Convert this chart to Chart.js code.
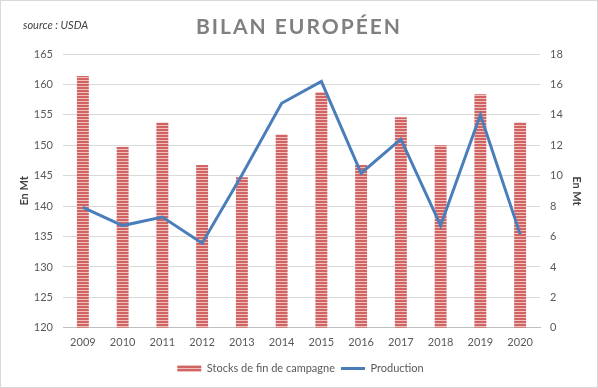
<!DOCTYPE html>
<html>
<head>
<meta charset="utf-8">
<script src="https://cdn.jsdelivr.net/npm/chart.js@4/dist/chart.umd.min.js"></script>
<style>
    body { margin: 0; background: #fff; }
    #cadre { position: absolute; left: 0; top: 0; width: 596px; height: 386px; border: 1px solid #d9d9d9; }
    #titre { position: absolute; left: 0; width: 598px; top: 13px; text-align: center; font: bold 21px Lato, sans-serif; letter-spacing: 2px; color: #808080; }
    #source { position: absolute; left: 23px; top: 18px; font: italic 11px Lato, sans-serif; color: #404040; }
    #grafico-bilan { position: absolute; left: 0; top: 0; }
</style>
</head>
<body>
<div id="cadre"></div>
<canvas id="grafico-bilan" width="598" height="388"></canvas>
<div id="titre">BILAN EUROPÉEN</div>
<div id="source">source : USDA</div>
<script>
var annees = ['2009', '2010', '2011', '2012', '2013', '2014', '2015', '2016', '2017', '2018', '2019', '2020'];
// stocks de fin de campagne (axe de droite, Mt)
var stocks = [16.55, 11.9, 13.5, 10.7, 9.9, 12.7, 15.5, 10.7, 13.85, 12.0, 15.35, 13.5];
// production (axe de gauche, Mt)
var production = [139.8, 136.8, 138.2, 133.9, 145.1, 156.9, 160.5, 145.4, 151.0, 136.8, 155.0, 135.4];
var ticksGauche = [120, 125, 130, 135, 140, 145, 150, 155, 160, 165];
var ticksDroite = [0, 2, 4, 6, 8, 10, 12, 14, 16, 18];

// motif rayé des barres
var motif = document.createElement('canvas');
motif.width = 4;
motif.height = 3;
var mctx = motif.getContext('2d');
mctx.fillStyle = '#f0c0bf';
mctx.fillRect(0, 0, 4, 3);
mctx.fillStyle = '#d06462';
mctx.fillRect(0, 0, 4, 2);
var rayures = mctx.createPattern(motif, 'repeat');

const ctx = document.getElementById("grafico-bilan");
var myChart = new Chart(ctx, {
    type: 'bar',
    data: {
        labels: annees,
        datasets: [{
            type: 'line',
            label: 'Production',
            data: production,
            yAxisID: 'y',
            borderColor: '#4a7ebb',
            backgroundColor: '#4a7ebb',
            borderWidth: 3,
            pointRadius: 0,
            tension: 0,
            pointStyle: 'line'
        }, {
            type: 'bar',
            label: 'Stocks de fin de campagne',
            data: stocks,
            yAxisID: 'y1',
            backgroundColor: rayures,
            borderWidth: 0,
            barPercentage: 0.3,
            categoryPercentage: 1,
            pointStyle: 'rect'
        }]
    },
    options: {
        responsive: false,
        animation: false,
        layout: {
            padding: { top: 54, left: 14, right: 11, bottom: 4 }
        },
        plugins: {
            legend: {
                position: 'bottom',
                reverse: true,
                labels: {
                    usePointStyle: true,
                    pointStyleWidth: 24,
                    boxHeight: 7,
                    padding: 6,
                    color: '#595959',
                    font: { family: 'Lato', size: 11 }
                }
            },
            tooltip: { enabled: false }
        },
        scales: {
            x: {
                grid: { display: false, drawTicks: false },
                border: { color: '#bfbfbf', width: 1 },
                ticks: { color: '#595959', padding: 8, font: { family: 'Lato', size: 11 } }
            },
            y: {
                position: 'left',
                min: 120,
                max: 165,
                afterBuildTicks: function (axis) {
                    axis.ticks = ticksGauche.map(function (v) { return { value: v }; });
                },
                afterFit: function (axis) { axis.width = 49; },
                grid: { color: '#d9d9d9', drawTicks: false },
                border: { display: false },
                ticks: { color: '#595959', padding: 10, font: { family: 'Lato', size: 11 } },
                title: { display: true, text: 'En Mt', color: '#404040', padding: 4, font: { family: 'Lato', size: 11, weight: 'bold' } }
            },
            y1: {
                position: 'right',
                min: 0,
                max: 18,
                afterBuildTicks: function (axis) {
                    axis.ticks = ticksDroite.map(function (v) { return { value: v }; });
                },
                afterFit: function (axis) { axis.width = 47; },
                grid: { display: false, drawTicks: false },
                border: { display: false },
                ticks: { color: '#595959', padding: 10, font: { family: 'Lato', size: 11 } },
                title: { display: true, text: 'En Mt', color: '#404040', padding: 4, font: { family: 'Lato', size: 11, weight: 'bold' } }
            }
        }
    }
});
</script>
</body>
</html>
